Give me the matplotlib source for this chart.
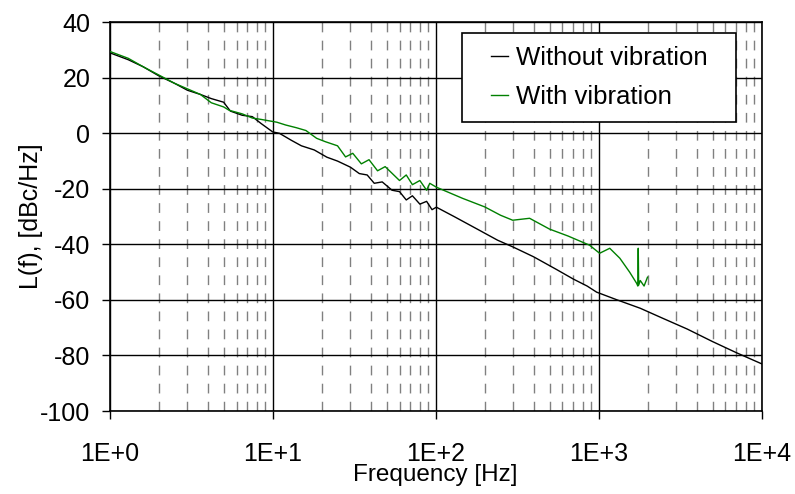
import matplotlib
matplotlib.use("Agg")
import matplotlib.pyplot as plt
from matplotlib.patches import Rectangle
from matplotlib.ticker import FixedLocator, LogLocator, NullFormatter

plt.rcParams['font.family'] = ['Liberation Sans', 'DejaVu Sans']
plt.rcParams['axes.unicode_minus'] = False

# Without vibration
f_wo = [1.0, 1.3, 1.6, 2.0, 2.5, 3.0, 3.6, 4.2, 5.0, 5.5, 6.5, 7.5, 8.5, 10.0, 11.0,
        13.0, 15.0, 18.0, 21.5, 25.0, 30.0, 34.0, 38.0, 42.0, 47.0, 54.0, 60.0, 66.0,
        72.0, 80.0, 88.0, 95.0, 101.0, 130.0, 180.0, 240.0, 300.0, 400.0, 550.0, 700.0,
        850.0, 972.0, 1300.0, 1800.0, 2450.0, 3500.0, 5000.0, 7000.0, 10000.0]
L_wo = [29.0, 26.5, 24.0, 20.7, 18.0, 15.5, 14.0, 12.5, 11.2, 8.0, 6.5, 6.0, 3.5, 0.5, 0.0,
        -2.5, -4.5, -6.0, -8.6, -10.0, -12.2, -14.5, -15.0, -18.0, -17.5, -20.5, -21.0, -24.0,
        -22.5, -25.5, -24.5, -27.5, -26.6, -30.0, -34.5, -38.5, -41.0, -44.5, -49.0, -52.5,
        -55.0, -57.2, -60.0, -63.0, -66.5, -70.5, -75.0, -79.0, -83.0]

# With vibration
f_w = [1.0, 1.3, 1.6, 2.0, 2.5, 3.0, 3.6, 4.2, 5.0, 5.4, 6.5, 7.5, 8.5, 10.6, 12.0,
       14.0, 16.0, 18.6, 21.0, 25.0, 28.0, 31.0, 35.0, 39.0, 44.0, 49.0, 54.0, 60.0,
       66.0, 72.0, 80.0, 88.0, 92.0, 101.0, 146.0, 200.0, 250.0, 297.0, 377.0, 500.0,
       650.0, 880.0, 1014.0, 1170.0, 1350.0, 1550.0, 1710.0, 1740.0, 1750.0, 1760.0,
       1800.0, 1900.0, 1995.0]
L_w = [29.5, 27.0, 24.0, 21.0, 18.0, 16.0, 14.0, 11.0, 9.5, 8.3, 7.0, 5.5, 5.0, 4.0, 3.0,
       2.0, 1.0, -1.8, -3.0, -4.5, -8.5, -7.2, -11.0, -9.5, -13.5, -12.0, -14.4, -17.0,
       -15.0, -18.5, -17.0, -20.5, -18.0, -19.4, -23.4, -26.5, -29.5, -31.3, -30.6, -34.5,
       -37.0, -40.3, -43.2, -41.4, -45.0, -50.0, -54.0, -55.0, -41.4, -54.7,
       -53.0, -55.0, -51.8]

decades = [1, 10, 100, 1000, 10000]
decade_labels = ['1E+0', '1E+1', '1E+2', '1E+3', '1E+4']
y_ticks = [40, 20, 0, -20, -40, -60, -80, -100]

fig = plt.figure(figsize=(7.95, 4.94), dpi=100)
ax = fig.add_axes([0.138, 0.168, 0.82, 0.787])

ax.plot(f_wo, L_wo, color='black', linewidth=1.0, label='Without vibration', zorder=3)
ax.plot(f_w, L_w, color='#008000', linewidth=1.0, label='With vibration', zorder=4)

ax.set_xscale('log')
ax.set_xlim(1, 10000)
ax.set_ylim(-100, 40)
ax.xaxis.set_major_locator(FixedLocator(decades))
ax.set_xticklabels(decade_labels)
ax.xaxis.set_minor_locator(LogLocator(base=10, subs=range(2, 10)))
ax.xaxis.set_minor_formatter(NullFormatter())
ax.set_yticks(y_ticks)

ax.grid(True, which='major', axis='both', color='black', linestyle='-', linewidth=1.0)
ax.grid(True, which='minor', axis='x', color='#808080', linestyle=(0, (7, 6)), linewidth=1.0)
ax.set_axisbelow(True)

ax.tick_params(axis='both', which='major', direction='out', length=6, width=1,
               labelsize=18, colors='black')
ax.tick_params(axis='x', which='major', pad=16)
ax.tick_params(axis='y', which='major', pad=8)
ax.tick_params(axis='x', which='minor', length=0)
for s in ax.spines.values():
    s.set_color('black')
    s.set_linewidth(1.2)

ax.set_xlabel('Frequency [Hz]', fontsize=17.5, labelpad=-1)
ax.set_ylabel('L(f), [dBc/Hz]', fontsize=18, labelpad=-2)

# legend without its own frame; the frame is drawn wider below
leg = ax.legend(loc='upper right', bbox_to_anchor=(0.938, 0.972), borderaxespad=0,
                fontsize=18.5, frameon=False, handlelength=0.7, handletextpad=0.3,
                borderpad=0.52, labelspacing=0.55)

fig.canvas.draw()
bb = leg.get_window_extent().transformed(fig.transFigure.inverted())
extra = 15 / fig.bbox.width
frame = Rectangle((bb.x0 - extra, bb.y0), bb.width + 2 * extra, bb.height,
                  transform=fig.transFigure, facecolor='white', edgecolor='black',
                  linewidth=1.2, zorder=5)
ax.add_artist(frame)
frame.set_clip_on(False)
leg.set_zorder(6)

fig.savefig('out.png', dpi=100)
